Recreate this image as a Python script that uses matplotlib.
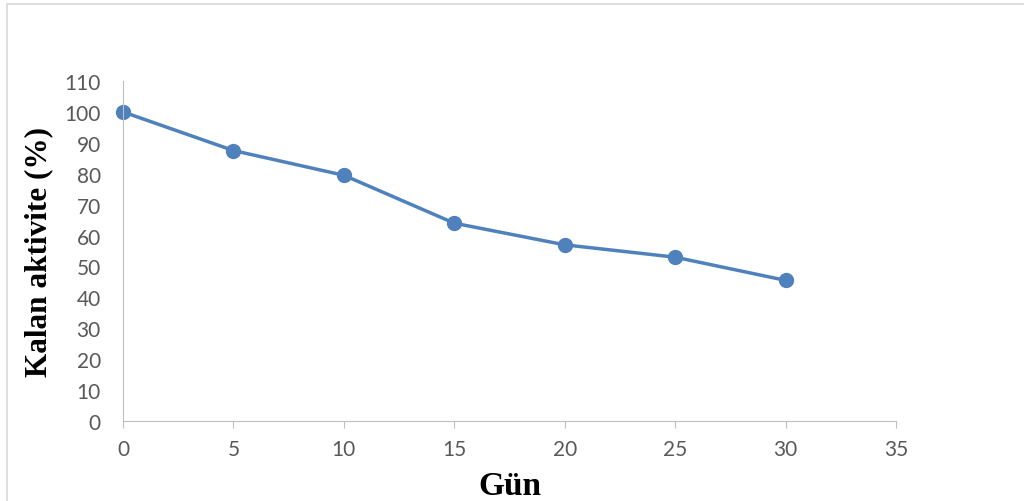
import matplotlib.pyplot as plt
from matplotlib.patches import Rectangle

gun = [0, 5, 10, 15, 20, 25, 30]
aktivite = [100, 87.5, 79.5, 64, 57, 53, 45.5]

fig = plt.figure(figsize=(10.24, 5.02), dpi=100)
ax = fig.add_axes([123 / 1024, 1 - 422 / 502, (896 - 123) / 1024, (422 - 82) / 502])

# chart frame like the office export (right and bottom edges cut off)
fig.patches.append(Rectangle((7 / 1024, -0.05), 1.05, 1.05 - 5 / 502,
                             transform=fig.transFigure, fill=False,
                             edgecolor='#d9d9d9', linewidth=1.2))

ax.plot(gun, aktivite, color='#4f81bd', linewidth=2.5, marker='o',
        markersize=10, markerfacecolor='#4f81bd', markeredgecolor='#4f81bd', clip_on=False)

ax.set_xlim(0, 35)
ax.set_ylim(0, 110)
ax.set_xticks(range(0, 36, 5))
ax.set_yticks(range(0, 111, 10))

for s in ['top', 'right']:
    ax.spines[s].set_visible(False)
ax.spines['left'].set_color('#bfbfbf')
ax.spines['bottom'].set_color('#bfbfbf')
ax.tick_params(axis='x', length=5, color='#bfbfbf', labelsize=15, labelcolor='#595959', pad=8)
ax.tick_params(axis='y', length=0, labelsize=15, labelcolor='#595959', pad=16)
for lbl in ax.get_xticklabels() + ax.get_yticklabels():
    lbl.set_family('Lato')

ax.set_xlabel('Gün', family='Liberation Serif', fontweight='bold', fontsize=24, labelpad=8)
ax.set_ylabel('Kalan aktivite (%)', family='Liberation Serif', fontweight='bold', fontsize=22.5, labelpad=8)

fig.savefig('out.png', dpi=100)
